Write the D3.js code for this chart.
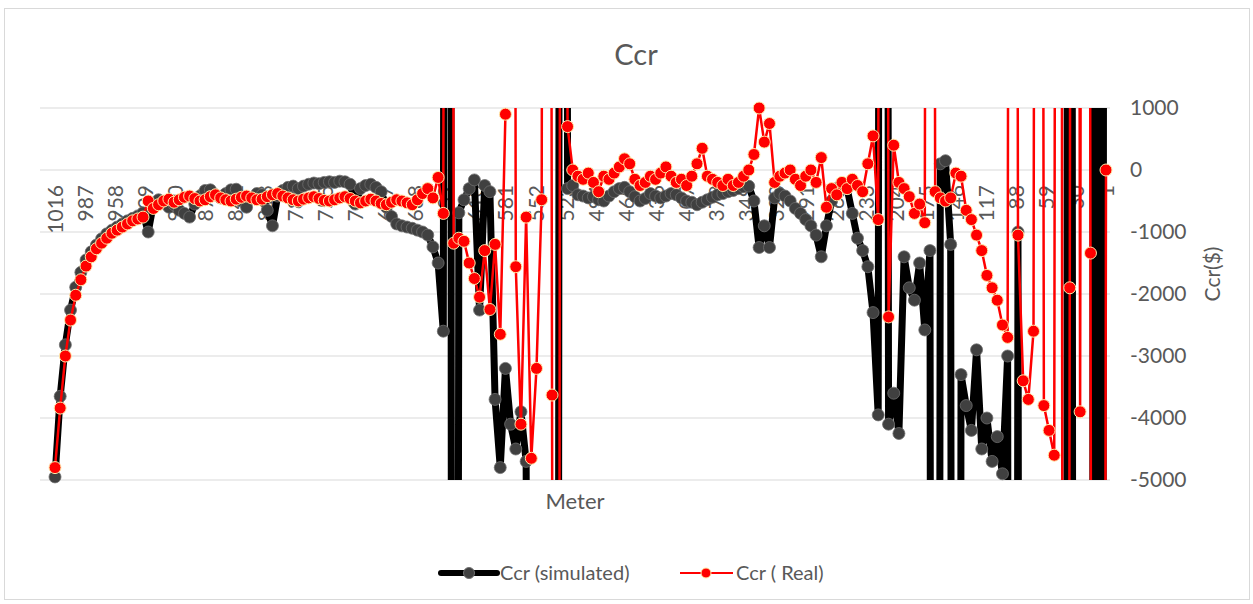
<!DOCTYPE html>
<html lang="en">
<head>
    <meta charset="UTF-8">
    <title>Ccr</title>
    <script src="https://d3js.org/d3.v7.min.js"></script>
    <style>
        body { margin: 0; background: #fff; }
        text { font-family: Lato, 'Open Sans', sans-serif; fill: #595959; }
    </style>
</head>
<body>
    <svg width="1253" height="604"></svg>
    <script>
        const width = 1253;
        const height = 604;
        const plot = {left: 40, right: 1110, top: 108, bottom: 480};

        // meters sampled every 5 m, from 1016 down to 1
        const meters = d3.range(1016, 0, -5);

        const tickLabels = [1016, 987, 958, 929, 900, 871, 842, 813, 784, 755, 726, 697, 668, 639, 610, 581, 552, 523,
            494, 465, 436, 407, 378, 349, 320, 291, 262, 233, 204, 175, 146, 117, 88, 59, 30, 1];
        const yTicks = [1000, 0, -1000, -2000, -3000, -4000, -5000];

        // values far outside the axis range are clipped by the plot area, as in the original
        const simulated = [
            -4950, -3650, -2820, -2260, -1890, -1650, -1450, -1320, -1210, -1110,
            -1030, -970, -920, -870, -820, -780, -740, -690, -1000, -550,
            -480, -520, -600, -560, -650, -700, -760, -550, -420, -330,
            -320, -400, -450, -380, -320, -310, -500, -600, -450, -380,
            -400, -650, -900, -420, -330, -280, -260, -300, -260, -230,
            -210, -220, -200, -190, -200, -180, -190, -230, -550, -300,
            -250, -230, -280, -350, -600, -750, -870, -900, -920, -940,
            -970, -1000, -1050, -1240, -1500, -2600, 60000, -60000, -690, -480,
            -300, -160, -2260, -250, -350, -3700, -4800, -3200, -4100, -4500,
            -3900, -4700, -30000, -30000, -30000, -30000, -30000, -30000, 60000, -300,
            -250, -400, -420, -450, -430, -480, -500, -420, -350, -300,
            -280, -350, -430, -500, -460, -380, -420, -450, -420, -380,
            -400, -450, -500, -520, -560, -520, -480, -440, -400, -380,
            -350, -330, -300, -270, -260, -500, -1250, -900, -1250, -450,
            -380, -420, -500, -620, -700, -800, -900, -1050, -1400, -900,
            -500, -300, -210, -300, -700, -1100, -1300, -1560, -2300, -3950,
            60000, -4100, -3600, -4250, -1400, -1900, -2100, -1500, -2580, -1300,
            -60000, 100, 150, -1200, -60000, -3300, -3800, -4200, -2900, -4500,
            -4000, -4700, -4300, -4900, -3000, -60000, -1000, -60000, -60000, -60000,
            -60000, -60000, -60000, -60000, -60000, -60000, 60000, -60000, -60000, -60000,
            -60000, 60000, -60000, 60000
        ];

        const real = [
            -4800, -3840, -3000, -2420, -2020, -1770, -1550, -1400, -1270, -1180,
            -1100, -1020, -970, -920, -870, -820, -790, -760, -500, -620,
            -560, -500, -470, -520, -480, -440, -420, -460, -500, -480,
            -430, -400, -450, -480, -500, -470, -440, -420, -450, -480,
            -470, -430, -400, -380, -420, -450, -480, -500, -470, -450,
            -430, -460, -490, -500, -480, -450, -430, -460, -500, -530,
            -500, -470, -500, -540, -560, -520, -480, -500, -530, -560,
            -480, -380, -300, -450, -120, -700, 50000, -1180, -1100, -1150,
            -1500, -1750, -2050, -1300, -2250, -1200, -2650, 900, 50000, -1560,
            -4100, -760, -4650, -3200, -480, 50000, -3630, -50000, 50000, 700,
            0, -100, -150, -50, -200, -350, -100, -150, -50, 50,
            180, 100, -150, -250, -200, -100, -150, -50, 50, -100,
            -200, -150, -250, -100, 100, 350, -100, -150, -200, -250,
            -150, -250, -200, -100, 0, 250, 1000, 450, 750, -200,
            -100, -50, 0, -150, -250, -100, 0, -200, 200, -600,
            -300, -400, -200, -300, -150, -250, -350, 100, 550, -800,
            50000, -2370, 400, -200, -300, -430, -700, -550, -850, 50000,
            -350, -450, -500, -450, -50, -100, -650, -800, -1050, -1300,
            -1700, -1900, -2100, -2500, -2700, 50000, -1050, -3400, -3700, -2600,
            50000, -3800, -4200, -4600, 50000, -50000, -1900, 50000, -3900, 50000,
            -1340, -50000, -50000, 0
        ];

        const x = d3.scaleLinear()
            .domain([1016, 1])
            .range([55, 1106]);

        const y = d3.scaleLinear()
            .domain([-5000, 1000])
            .range([plot.bottom, plot.top]);

        const svg = d3.select('svg');

        svg.append('rect')
            .attr('x', 4.5).attr('y', 8.5)
            .attr('width', 1245).attr('height', 591)
            .attr('fill', '#fff')
            .attr('stroke', '#d9d9d9');

        svg.append('defs').append('clipPath').attr('id', 'plot-clip')
            .append('rect')
            .attr('x', plot.left).attr('y', plot.top)
            .attr('width', plot.right - plot.left).attr('height', plot.bottom - plot.top);

        // gridlines
        svg.append('g')
            .selectAll('line').data(yTicks).enter().append('line')
            .attr('x1', plot.left).attr('x2', plot.right)
            .attr('y1', d => y(d)).attr('y2', d => y(d))
            .attr('stroke', '#d9d9d9')
            .attr('stroke-width', 1);

        // right value axis
        svg.append('g')
            .attr('transform', `translate(${plot.right + 14}, 0)`)
            .call(d3.axisRight(y).tickValues(yTicks).tickFormat(d => String(d)).tickSize(0).tickPadding(6))
            .call(g => g.select('.domain').remove())
            .call(g => g.selectAll('text')
                .style('font-size', '21px')
                .attr('fill', '#595959')
                .style('font-family', 'Lato, sans-serif'));

        // category labels, rotated, sitting under the zero line
        svg.append('g')
            .attr('transform', `translate(0, ${y(0)})`)
            .call(d3.axisBottom(x).tickValues(tickLabels).tickFormat(d => String(d)).tickSize(0))
            .call(g => g.select('.domain').remove())
            .call(g => g.selectAll('text')
                .attr('transform', 'rotate(-90)')
                .attr('text-anchor', 'end')
                .attr('x', -15)
                .attr('y', 0)
                .attr('dy', '0.36em')
                .style('font-size', '21px')
                .attr('fill', '#595959')
                .style('font-family', 'Lato, sans-serif'));

        const simData = meters.map((m, i) => ({m, v: simulated[i]}));
        const realData = meters.map((m, i) => ({m, v: real[i]}));

        const line = d3.line()
            .x(d => x(d.m))
            .y(d => y(d.v));

        const inRange = d => d.v >= -5100 && d.v <= 1100;

        // simulated series
        svg.append('path')
            .datum(simData)
            .attr('clip-path', 'url(#plot-clip)')
            .attr('fill', 'none')
            .attr('stroke', '#000')
            .attr('stroke-width', 7)
            .attr('stroke-linejoin', 'round')
            .attr('d', line);

        svg.append('g')
            .selectAll('circle').data(simData.filter(inRange)).enter().append('circle')
            .attr('cx', d => x(d.m))
            .attr('cy', d => y(d.v))
            .attr('r', 6)
            .attr('fill', '#404040')
            .attr('stroke', '#6f6f6f')
            .attr('stroke-width', 0.8);

        // real series
        svg.append('path')
            .datum(realData)
            .attr('clip-path', 'url(#plot-clip)')
            .attr('fill', 'none')
            .attr('stroke', '#ff0000')
            .attr('stroke-width', 2.5)
            .attr('d', line);

        svg.append('g')
            .selectAll('circle').data(realData.filter(inRange)).enter().append('circle')
            .attr('cx', d => x(d.m))
            .attr('cy', d => y(d.v))
            .attr('r', 6)
            .attr('fill', '#ff0000')
            .attr('stroke', '#ffe9a8')
            .attr('stroke-width', 1);

        // titles
        svg.append('text')
            .attr('x', 636).attr('y', 65)
            .attr('text-anchor', 'middle')
            .style('font-size', '29px')
            .text('Ccr');

        svg.append('text')
            .attr('x', 575).attr('y', 509)
            .attr('text-anchor', 'middle')
            .style('font-size', '22px')
            .text('Meter');

        svg.append('text')
            .attr('transform', `translate(1220, 274) rotate(-90)`)
            .attr('text-anchor', 'middle')
            .style('font-size', '21px')
            .text('Ccr($)');

        // legend
        const legend = svg.append('g').attr('transform', 'translate(0, 573)');
        legend.append('line')
            .attr('x1', 441).attr('x2', 497)
            .attr('stroke', '#000').attr('stroke-width', 6).attr('stroke-linecap', 'round');
        legend.append('circle')
            .attr('cx', 469).attr('r', 5.5)
            .attr('fill', '#404040').attr('stroke', '#6f6f6f');
        legend.append('text')
            .attr('x', 500).attr('dy', '0.35em')
            .style('font-size', '20px')
            .text('Ccr (simulated)');
        legend.append('line')
            .attr('x1', 680).attr('x2', 733)
            .attr('stroke', '#ff0000').attr('stroke-width', 2);
        legend.append('circle')
            .attr('cx', 706).attr('r', 5)
            .attr('fill', '#ff0000').attr('stroke', '#ffe9a8');
        legend.append('text')
            .attr('x', 736).attr('dy', '0.35em')
            .style('font-size', '20px')
            .text('Ccr ( Real)');
    </script>
</body>
</html>
